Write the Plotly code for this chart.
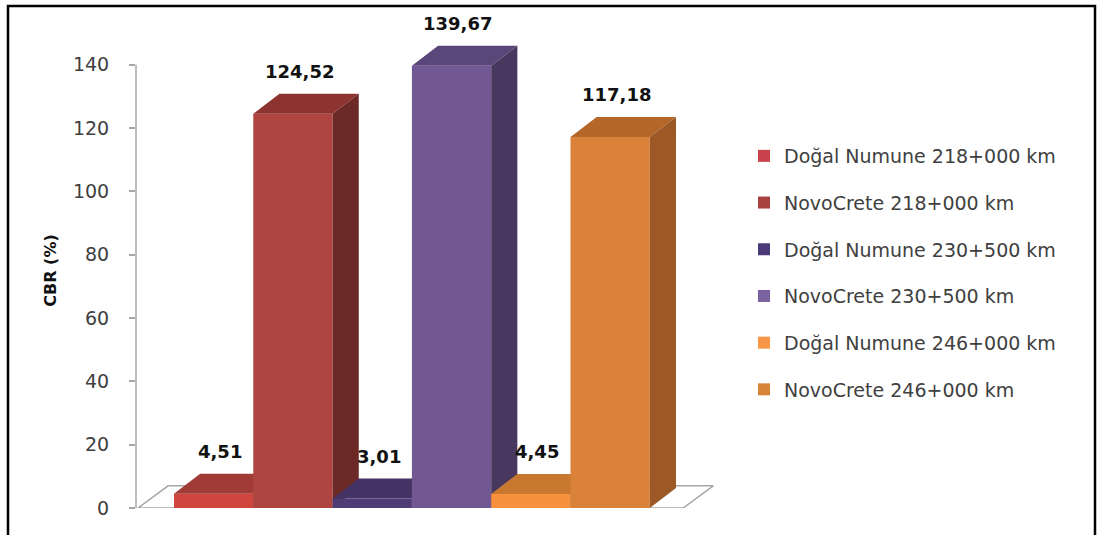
import plotly.graph_objects as go

# ---- data ----
series = ["Doğal Numune 218+000 km", "NovoCrete 218+000 km",
          "Doğal Numune 230+500 km", "NovoCrete 230+500 km",
          "Doğal Numune 246+000 km", "NovoCrete 246+000 km"]
values = [4.51, 124.52, 3.01, 139.67, 4.45, 117.18]
y_ticks = [0, 20, 40, 60, 80, 100, 120, 140]
y_title = "CBR (%)"

# ---- style ----
legend_colors = ["#C8414B", "#A8423F", "#4B3A78", "#7A62A0", "#F79646", "#D98538"]
front_colors = ["#D0463F", "#AE4541", "#4F3C77", "#725892", "#F7913D", "#DA823A"]
top_colors = ["#A13B37", "#8E3430", "#453365", "#5B4679", "#C8782F", "#B5672A"]
side_colors = ["#7B2C29", "#6D2925", "#3A2B55", "#48385F", "#A05F28", "#9C5925"]

BAR_W = 1.0
BAR_DX, BAR_DY = 0.33, 6.3
FLOOR_DX, FLOOR_DY = 0.38, 7.0
X_MIN, X_MAX = -0.979, 6.322
Y_MAX = 150
FLOOR_L, FLOOR_R = -0.954, 5.92

fig = go.Figure()

# floor
fig.add_trace(go.Scatter(
    x=[FLOOR_L, FLOOR_R, FLOOR_R + FLOOR_DX, FLOOR_L + FLOOR_DX, FLOOR_L],
    y=[0, 0, FLOOR_DY, FLOOR_DY, 0],
    mode="lines", fill="toself", fillcolor="white",
    line=dict(color="#A6A6A6", width=1.5), showlegend=False, hoverinfo="skip"))

# bars, drawn left to right (painter's order)
for i, v in enumerate(values):
    x0, x1 = i - BAR_W / 2, i + BAR_W / 2
    # front
    fig.add_trace(go.Scatter(
        x=[x0, x1, x1, x0, x0], y=[0, 0, v, v, 0],
        mode="lines", fill="toself", fillcolor=front_colors[i],
        line=dict(width=0, color=front_colors[i]), showlegend=False,
        name=series[i], hoverinfo="name+y"))
    # top
    fig.add_trace(go.Scatter(
        x=[x0, x1, x1 + BAR_DX, x0 + BAR_DX, x0],
        y=[v, v, v + BAR_DY, v + BAR_DY, v],
        mode="lines", fill="toself", fillcolor=top_colors[i],
        line=dict(width=0, color=top_colors[i]), showlegend=False, hoverinfo="skip"))
    # side
    fig.add_trace(go.Scatter(
        x=[x1, x1 + BAR_DX, x1 + BAR_DX, x1, x1],
        y=[0, BAR_DY, v + BAR_DY, v, 0],
        mode="lines", fill="toself", fillcolor=side_colors[i],
        line=dict(width=0, color=side_colors[i]), showlegend=False, hoverinfo="skip"))

# legend entries
for i, name in enumerate(series):
    fig.add_trace(go.Scatter(
        x=[None], y=[None], mode="markers", name=name, legendgroup=f"g{i}",
        marker=dict(symbol="square", size=10, color=legend_colors[i])))

# value labels
for i, v in enumerate(values):
    fig.add_annotation(
        x=i + 0.08, y=v, yshift=42, yanchor="middle", showarrow=False,
        text=f"{v:.2f}".replace(".", ","),
        font=dict(family="DejaVu Sans", size=18, color="#111111", weight="bold"))

# y axis line (only up to the last tick)
fig.add_shape(type="line", xref="paper", yref="y", x0=0, x1=0, y0=0, y1=y_ticks[-1],
              line=dict(color="#A6A6A6", width=1.5))

# outer border
fig.add_shape(type="rect", xref="paper", yref="paper",
              x0=(8 - 136) / 579, x1=(1095 - 136) / 579,
              y0=(508 - 545) / 475, y1=(508 - 6) / 475,
              line=dict(color="black", width=2.5), fillcolor="rgba(0,0,0,0)")

fig.update_layout(
    width=1097, height=535,
    margin=dict(l=136, r=1097 - 715, t=33, b=27),
    paper_bgcolor="white", plot_bgcolor="white",
    showlegend=True,
    legend=dict(x=(744 - 136) / 579, xanchor="left", y=(508 - 137) / 475, yanchor="top",
                traceorder="grouped", tracegroupgap=19,
                font=dict(family="DejaVu Sans", size=19, color="#404040"),
                itemsizing="constant", bgcolor="rgba(0,0,0,0)"),
    xaxis=dict(range=[X_MIN, X_MAX], visible=False, showgrid=False, zeroline=False),
    yaxis=dict(range=[0, Y_MAX], tickvals=y_ticks, ticks="outside", ticklen=6,
               tickcolor="#A6A6A6", tickwidth=1.5, showline=False, showgrid=False,
               zeroline=False, ticklabelstandoff=16,
               tickfont=dict(family="DejaVu Sans", size=19, color="#404040"),
               title=dict(text=y_title, standoff=12,
                          font=dict(family="DejaVu Sans", size=16, color="#111111",
                                    weight="bold"))),
    font=dict(family="DejaVu Sans"),
)

fig.write_html("out.html")
